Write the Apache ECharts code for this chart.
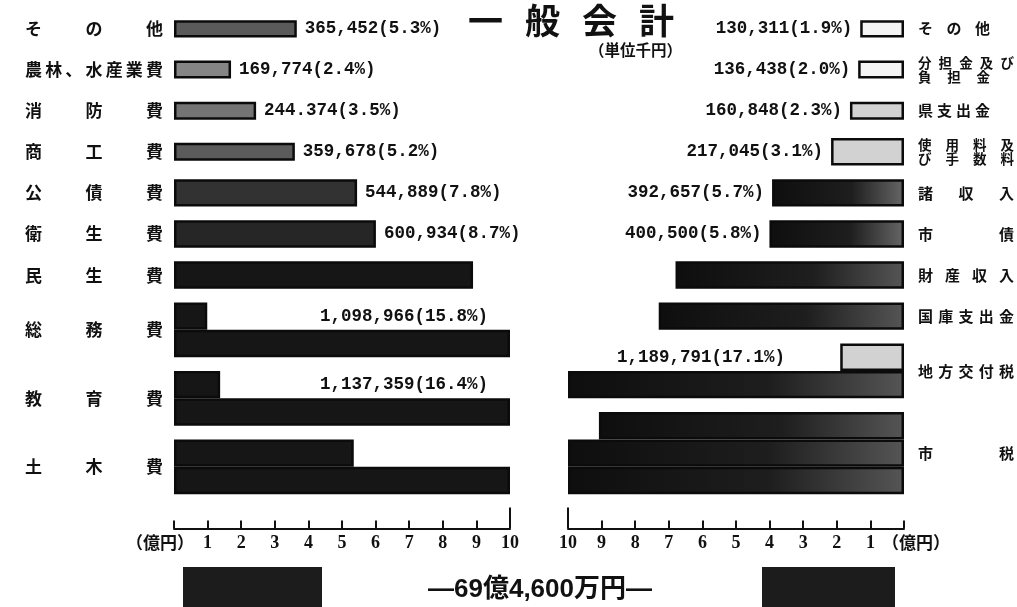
<!DOCTYPE html>
<html><head><meta charset="utf-8">
<script src="https://cdn.jsdelivr.net/npm/echarts@6/dist/echarts.min.js"></script>
<style>html,body{margin:0;padding:0;background:#fff}#c{width:1017px;height:607px}</style>
</head><body><div id="c"></div>
<script>
// ---------------- data ----------------
const titleText = '一般会計';
const unitText = '（単位千円）';
const totalText = '—69億4,600万円—';
const axisUnitLabel = '（億円）';
const axisTicks = [0, 1, 2, 3, 4, 5, 6, 7, 8, 9, 10]; // 億円

// 歳出 (left)
const expCategories = ['その他', '農林、水産業費', '消防費', '商工費', '公債費', '衛生費', '民生費', '総務費', '教育費', '土木費'];
const expValues = [365452, 169774, 244374, 359678, 544889, 600934, 890000, 1098966, 1137359, 1535000]; // 千円
const expLabels = ['365,452(5.3%)', '169,774(2.4%)', '244.374(3.5%)', '359,678(5.2%)', '544,889(7.8%)', '600,934(8.7%)', '', '1,098,966(15.8%)', '1,137,359(16.4%)', ''];

// 歳入 (right)
const revCategories = ['その他', '分担金及び\n負担金', '県支出金', '使用料及\nび手数料', '諸収入', '市債', '財産収入', '国庫支出金', '地方交付税', '市税'];
const revValues = [130311, 136438, 160848, 217045, 392657, 400500, 680000, 730000, 1189791, 2908000]; // 千円
const revLabels = ['130,311(1.9%)', '136,438(2.0%)', '160,848(2.3%)', '217,045(3.1%)', '392,657(5.7%)', '400,500(5.8%)', '', '', '1,189,791(17.1%)', ''];

// ---------------- layout / style ----------------
const UNIT = 100000;           // 千円 -> 億円
const SLOTS = 37;
const GRID_TOP = 21.6, GRID_BOTTOM = 78.5, H = 607;
const slotH = (H - GRID_TOP - GRID_BOTTOM) / SLOTS;
const CJK = "'Noto Sans CJK JP', 'Noto Sans CJK SC', sans-serif";
const MONO = "'Liberation Mono', 'DejaVu Sans Mono', monospace";
const SERIF = "'Liberation Serif', serif";
const INK = '#111';

function gray(g) { g = Math.round(Math.max(22, Math.min(240, g))); const h = g.toString(16).padStart(2, '0'); return '#' + h + h + h; }

function leftFill(v, multi) {
  return { color: multi ? '#161616' : gray(170 - 22 * v), borderColor: '#0b0b0b', borderWidth: 2.5 };
}
function rightFill(v) {
  let color;
  if (v < 1.5) color = '#f4f4f4';
  else if (v < 2.5) color = '#d2d2d2';
  else color = new echarts.graphic.LinearGradient(0, 0, 1, 0, [
    { offset: 0, color: '#0e0e0e' }, { offset: 0.6, color: '#1e1e1e' }, { offset: 1, color: v < 5 ? '#666' : '#555' }]);
  return { color, borderColor: '#0b0b0b', borderWidth: 2.5 };
}

function buildPanel(cats, vals, txts, thinCount, fillFn) {
  const thin = new Array(SLOTS).fill('-'), thick = new Array(SLOTS).fill('-'), over = new Array(SLOTS).fill('-');
  const slotLabel = new Array(SLOTS).fill('');
  let slot = 0;
  vals.forEach((raw, i) => {
    const v = raw / UNIT;
    const n = Math.ceil(v / 10 - 1e-9);
    for (let r = 0; r < n; r++) {
      const rv = r === 0 ? v - 10 * (n - 1) : 10;
      const item = { value: rv, itemStyle: fillFn(rv, n > 1) };
      if (n === 1 && txts[i]) item.txt = txts[i];
      (i < thinCount ? thin : thick)[slot + 2 * r] = item;
    }
    if (n > 1 && txts[i]) over[slot] = { value: 10, txt: txts[i] };
    slotLabel[slot + n - 1] = cats[i];
    slot += 2 * (n - 1) + 3;
  });
  return { thin, thick, over, slotLabel };
}

function justify(text, widthFn, f, lh, key, rich) {
  return text.split('\n').map((line, li) => {
    const chars = Array.from(line), n = chars.length;
    const W = widthFn(line);
    const step = n > 1 ? (W - f) / (n - 1) : W;
    const s = key + 'l' + li + 's', e = key + 'l' + li + 'e';
    rich[s] = { width: step, fontSize: f, fontWeight: 'bold', fontFamily: CJK, color: INK, lineHeight: lh };
    rich[e] = { fontSize: f, fontWeight: 'bold', fontFamily: CJK, color: INK, lineHeight: lh };
    return chars.map((c, i) => '{' + (i < n - 1 ? s : e) + '|' + c + '}').join('');
  }).join('\n');
}

const L = buildPanel(expCategories, expValues, expLabels, 4, leftFill);
const R = buildPanel(revCategories, revValues, revLabels, 3, rightFill);

const slotNames = Array.from({ length: SLOTS }, (_, i) => String(i));

const richL = {}, textL = L.slotLabel.map((t, i) => t ? justify(t, () => 138, 17, 20, 'a' + i, richL) : '');
const NARROW = new Set(['その他', '負担金', '県支出金']);
const richR = {}, textR = R.slotLabel.map((t, i) => {
  if (!t) return '';
  const multi = t.indexOf('\n') >= 0;
  return justify(t, line => NARROW.has(line) ? 72 : 96, multi ? 13.5 : 15, multi ? 14 : 18, 'b' + i, richR);
});

const valueLabel = (pos, dist) => ({
  show: true, position: pos, distance: dist,
  formatter: p => (p.data && p.data.txt) ? p.data.txt : '',
  fontFamily: MONO, fontWeight: 'bold', fontSize: 17.5, color: INK
});

function xAxes(grid, inverse, unitPad) {
  return [{
    gridIndex: grid, type: 'value', min: 0, max: 10, interval: 1, inverse,
    axisLine: { show: true, lineStyle: { color: INK, width: 2 } },
    axisTick: { show: true, inside: true, length: 8, lineStyle: { color: INK, width: 2 } },
    splitLine: { show: false },
    axisLabel: {
      show: true, margin: 6, showMinLabel: true, showMaxLabel: true,
      formatter: v => v === 0 ? '{u|' + axisUnitLabel + '}' : String(v),
      fontFamily: SERIF, fontWeight: 'bold', fontSize: 18, color: INK,
      rich: { u: { fontFamily: CJK, fontWeight: 'bold', fontSize: 17, color: INK, padding: unitPad } }
    }
  }, {
    gridIndex: grid, type: 'value', min: 0, max: 10, inverse, position: 'bottom',
    axisLine: { show: false }, axisLabel: { show: false }, splitLine: { show: false },
    axisTick: { show: true, inside: true, length: 21, customValues: [10], lineStyle: { color: INK, width: 2 } }
  }];
}

function yAxis(grid, show, position, labelCfg) {
  return {
    gridIndex: grid, type: 'category', data: slotNames, inverse: true, position,
    show, axisLine: { show: false }, axisTick: { show: false },
    axisLabel: labelCfg || { show: false }
  };
}

const option = {
  animation: false,
  backgroundColor: '#fff',
  title: [
    {
      text: Array.from(titleText).map((c, i, a) => '{' + (i < a.length - 1 ? 't' : 'l') + '|' + c + '}').join(''),
      left: 468, top: 3, padding: 0,
      textStyle: { rich: {
        t: { width: 57, fontSize: 35, fontWeight: 'bold', fontFamily: CJK, color: INK },
        l: { fontSize: 35, fontWeight: 'bold', fontFamily: CJK, color: INK } } }
    },
    { text: unitText, left: 589, top: 42, padding: 0,
      textStyle: { fontSize: 15.5, fontWeight: 'bold', fontFamily: CJK, color: INK } },
    { text: totalText, left: 428, top: 577, padding: 0,
      textStyle: { fontSize: 26, fontWeight: 'bold', fontFamily: "'Liberation Sans Narrow', 'Liberation Sans', " + CJK, color: INK } }
  ],
  grid: [
    { left: 174, right: 1017 - 510, top: GRID_TOP, bottom: GRID_BOTTOM },
    { left: 568, right: 1017 - 906, top: GRID_TOP, bottom: GRID_BOTTOM }
  ],
  xAxis: [...xAxes(0, false, [0, 28, 0, 0]), ...xAxes(1, true, [0, 0, 0, 24])],
  yAxis: [
    yAxis(0, true, 'left', { show: true, interval: 0, align: 'left', margin: 149,
      formatter: v => textL[+v], rich: richL }),
    yAxis(0, false, 'left'),
    yAxis(1, true, 'right', { show: true, interval: 0, align: 'left', margin: 14,
      formatter: v => textR[+v], rich: richR }),
    yAxis(1, false, 'right')
  ],
  series: [
    { type: 'bar', xAxisIndex: 0, yAxisIndex: 0, barWidth: 18, data: L.thin, label: valueLabel('right', 8) },
    { type: 'bar', xAxisIndex: 0, yAxisIndex: 1, barWidth: 2 * slotH, barGap: '-100%', data: L.thick, label: valueLabel('right', 8) },
    { type: 'bar', xAxisIndex: 0, yAxisIndex: 1, barWidth: 2 * slotH, barGap: '-100%', data: L.over, silent: true,
      itemStyle: { color: 'rgba(0,0,0,0)' }, label: valueLabel('insideRight', 22) },
    { type: 'bar', xAxisIndex: 2, yAxisIndex: 2, barWidth: 18, data: R.thin, label: valueLabel('left', 8) },
    { type: 'bar', xAxisIndex: 2, yAxisIndex: 3, barWidth: 2 * slotH, barGap: '-100%', data: R.thick, label: valueLabel('left', 8) },
    { type: 'bar', xAxisIndex: 2, yAxisIndex: 3, barWidth: 2 * slotH, barGap: '-100%', data: R.over, silent: true,
      itemStyle: { color: 'rgba(0,0,0,0)' }, label: valueLabel('insideLeft', 49) }
  ],
  graphic: [
    { type: 'rect', shape: { x: 183, y: 567, width: 139, height: 45 }, style: { fill: '#1c1c1c' } },
    { type: 'rect', shape: { x: 762, y: 567, width: 133, height: 45 }, style: { fill: '#1c1c1c' } }
  ]
};

const chart = echarts.init(document.getElementById('c'), null, { renderer: 'canvas' });
chart.setOption(option);
</script>
</body></html>
